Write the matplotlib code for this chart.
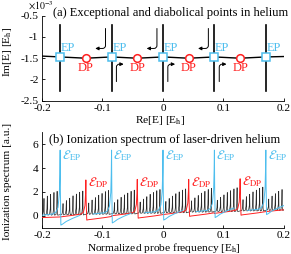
import numpy as np
import matplotlib.pyplot as plt

plt.rcParams['font.family'] = 'Liberation Serif'
plt.rcParams['mathtext.fontset'] = 'stix'
plt.rcParams['font.size'] = 8.2
plt.rcParams['axes.unicode_minus'] = False

BLUE = '#4DBEEE'
RED = '#FF2020'

# ---- panel (a): Im[E] in units of 1e-3 ----
ep_re = [-0.17, -0.085, 0.0, 0.085, 0.17]
ep_im = [-1.47, -1.47, -1.47, -1.47, -1.47]
dp_re = [-0.1275, -0.0425, 0.0425, 0.1275]
dp_im = [-1.50, -1.50, -1.50, -1.50]
branch_re = [-0.2, -0.17, -0.1275, -0.085, -0.0425, 0.0, 0.0425, 0.085, 0.1275, 0.17, 0.2]
branch_im = [-1.45, -1.47, -1.50, -1.47, -1.50, -1.47, -1.50, -1.47, -1.50, -1.47, -1.46]
vert_top = -0.72
vert_bot = -2.28
arrow_ep = [-0.085, 0.0, 0.085]

# ---- panel (b): ionization spectra ----
ep_peak = [5.5, 5.5, 5.5, 5.5, 5.5]
ep_base = [0.15, 0.25, 0.35, 0.45, 0.55]
ep_dip = [-0.78, -0.6, -0.36, -0.15, 0.1]
blue_dx = [-0.030, -0.012, -0.007, -0.0035, -0.0013, -0.0005, 0.0, 0.0004, 0.0012, 0.004, 0.010, 0.020, 0.032]
blue_pre = [-0.1, 0.0, 0.15, 0.55, 1.7, 3.3]      # rise above base before peak
blue_post = [2.0, 0.0, 0.08, 0.3, 0.55, 0.8]       # recovery above dip after peak

dp_peak = [3.0, 3.05, 3.05, 3.1]
dp_base = [0.25, 0.35, 0.45, 0.55]
dp_dip = [-0.36, -0.2, -0.05, 0.05]
red_dx = [-0.0425, -0.020, -0.008, -0.004, -0.0015, -0.0005, 0.0, 0.0005, 0.0015, 0.004, 0.015, 0.030, 0.0425]
red_pre = [-0.35, -0.2, -0.1, 0.05, 0.6, 1.6]
red_post = [1.0, 0.0, 0.03, 0.1, 0.2, 0.3]
red_ends = ([-0.2, 0.2], [-0.15, 0.5])

half_start = [-0.2125, -0.17, -0.1275, -0.085, -0.0425, 0.0, 0.0425, 0.085, 0.1275, 0.17]
half_base = [0.1, 0.12, 0.17, 0.2, 0.25, 0.3, 0.35, 0.4, 0.45, 0.5]
comb_dx = [0.0048, 0.0103, 0.0158, 0.0213, 0.0268, 0.0323, 0.0375]
comb_h = [0.9, 1.15, 1.35, 1.55, 1.7, 1.85, 1.95]

fig = plt.figure(figsize=(2.91, 2.54), dpi=100)
ax1 = fig.add_axes([0.1443, 0.6035, 0.8316, 0.3346])
ax2 = fig.add_axes([0.1443, 0.1035, 0.8316, 0.376])

# panel (a)
for e in ep_re:
    ax1.plot([e, e], [vert_top, vert_bot], color='k', lw=1.2, zorder=2)
ax1.plot(branch_re, branch_im, color='k', lw=1.0, zorder=2)
for e in arrow_ep:
    ax1.annotate('', xy=(e - 0.027, -1.27), xytext=(e - 0.010, -0.80),
                 arrowprops=dict(arrowstyle='-|>', color='k', lw=0.7, mutation_scale=5,
                                 shrinkA=0, shrinkB=0,
                                 connectionstyle='angle,angleA=90,angleB=0,rad=3'))
    ax1.annotate('', xy=(e + 0.020, -1.64), xytext=(e + 0.008, -2.05),
                 arrowprops=dict(arrowstyle='-|>', color='k', lw=0.7, mutation_scale=5,
                                 shrinkA=0, shrinkB=0,
                                 connectionstyle='angle,angleA=90,angleB=0,rad=3'))
ax1.plot(ep_re, ep_im, 's', ms=5.5, mfc='white', mec=BLUE, mew=1.1, zorder=4)
ax1.plot(dp_re, dp_im, 'o', ms=5.5, mfc='white', mec=RED, mew=1.1, zorder=4)
for e, y in zip(ep_re, ep_im):
    ax1.text(e + 0.001, y + 0.2, 'EP', color=BLUE, ha='left', va='center', fontsize=8.8)
for d, y in zip(dp_re, dp_im):
    ax1.text(d, y - 0.23, 'DP', color=RED, ha='center', va='center', fontsize=9)

ax1.set_xlim(-0.2, 0.2)
ax1.set_ylim(-2.5, -0.5)
ax1.set_xticks([-0.2, -0.1, 0, 0.1, 0.2])
ax1.set_xticklabels(['-0.2', '-0.1', '0', '0.1', '0.2'])
ax1.set_yticks([-2.5, -2, -1.5, -1, -0.5])
ax1.set_yticklabels(['-2.5', '-2', '-1.5', '-1', '-0.5'])

# panel (b)
xs, ys = [], []
for s, b in zip(half_start, half_base):
    for dx, h in zip(comb_dx, comb_h):
        p = s + dx
        xs += [p - 0.0019, p - 0.0006, p, p + 0.0004, p + 0.001]
        ys += [b, b + 0.3 * h, b + h, b + 0.1 * h, b - 0.05]
ax2.plot(xs, ys, color='#2a2a2a', lw=0.5, zorder=2)

rx, ry = [red_ends[0][0]], [red_ends[1][0]]
for d, P, b, m in zip(dp_re, dp_peak, dp_base, dp_dip):
    yy = [b + v for v in red_pre] + [P] + [red_post[0] + b] + [m + v for v in red_post[1:]]
    rx += [d + v for v in red_dx]
    ry += yy
rx.append(red_ends[0][1])
ry.append(red_ends[1][1])
ax2.plot(rx, ry, color=RED, lw=0.7, zorder=3)

for e, P, b, m in zip(ep_re, ep_peak, ep_base, ep_dip):
    yy = [b + v for v in blue_pre] + [P] + [blue_post[0] + b] + [m + v for v in blue_post[1:]]
    ax2.plot([e + v for v in blue_dx], yy, color=BLUE, lw=0.7, zorder=4)

for e, P in zip(ep_re, ep_peak):
    ax2.text(e + 0.003, P - 0.45, r'$\mathcal{E}_{\rm EP}$', color=BLUE, ha='left', va='center', fontsize=9)
for d, P in zip(dp_re, dp_peak):
    ax2.text(d + 0.003, P - 0.25, r'$\mathcal{E}_{\rm DP}$', color=RED, ha='left', va='center', fontsize=9)

ax2.set_xlim(-0.2, 0.2)
ax2.set_ylim(-1, 7)
ax2.set_xticks([-0.2, -0.1, 0, 0.1, 0.2])
ax2.set_xticklabels(['-0.2', '-0.1', '0', '0.1', '0.2'])
ax2.set_yticks([0, 2, 4, 6])

for ax in (ax1, ax2):
    ax.spines['top'].set_visible(False)
    ax.spines['right'].set_visible(False)
    for sp in ('left', 'bottom'):
        ax.spines[sp].set_linewidth(0.6)
    ax.tick_params(direction='in', length=2, width=0.6, pad=2.5, labelsize=8.2)

fig.text(0.182, 0.949, '(a) Exceptional and diabolical points in helium', ha='left', va='center', fontsize=9)
fig.text(0.1695, 0.449, '(b) Ionization spectrum of laser-driven helium', ha='left', va='center', fontsize=9)
fig.text(0.096, 0.978, r'$\times10^{-3}$', ha='left', va='center', fontsize=7)
fig.text(0.026, 0.795, r'Im[E] [E$_\mathrm{h}$]', rotation=90, ha='center', va='center', fontsize=8.2)
fig.text(0.026, 0.285, 'Ionization spectrum [a.u.]', rotation=90, ha='center', va='center', fontsize=8.2)
fig.text(0.55, 0.524, r'Re[E] [E$_\mathrm{h}$]', ha='center', va='center', fontsize=8.2)
fig.text(0.564, 0.022, r'Normalized probe frequency [E$_\mathrm{h}$]', ha='center', va='center', fontsize=8.2)

fig.savefig('out.png', dpi=100)
